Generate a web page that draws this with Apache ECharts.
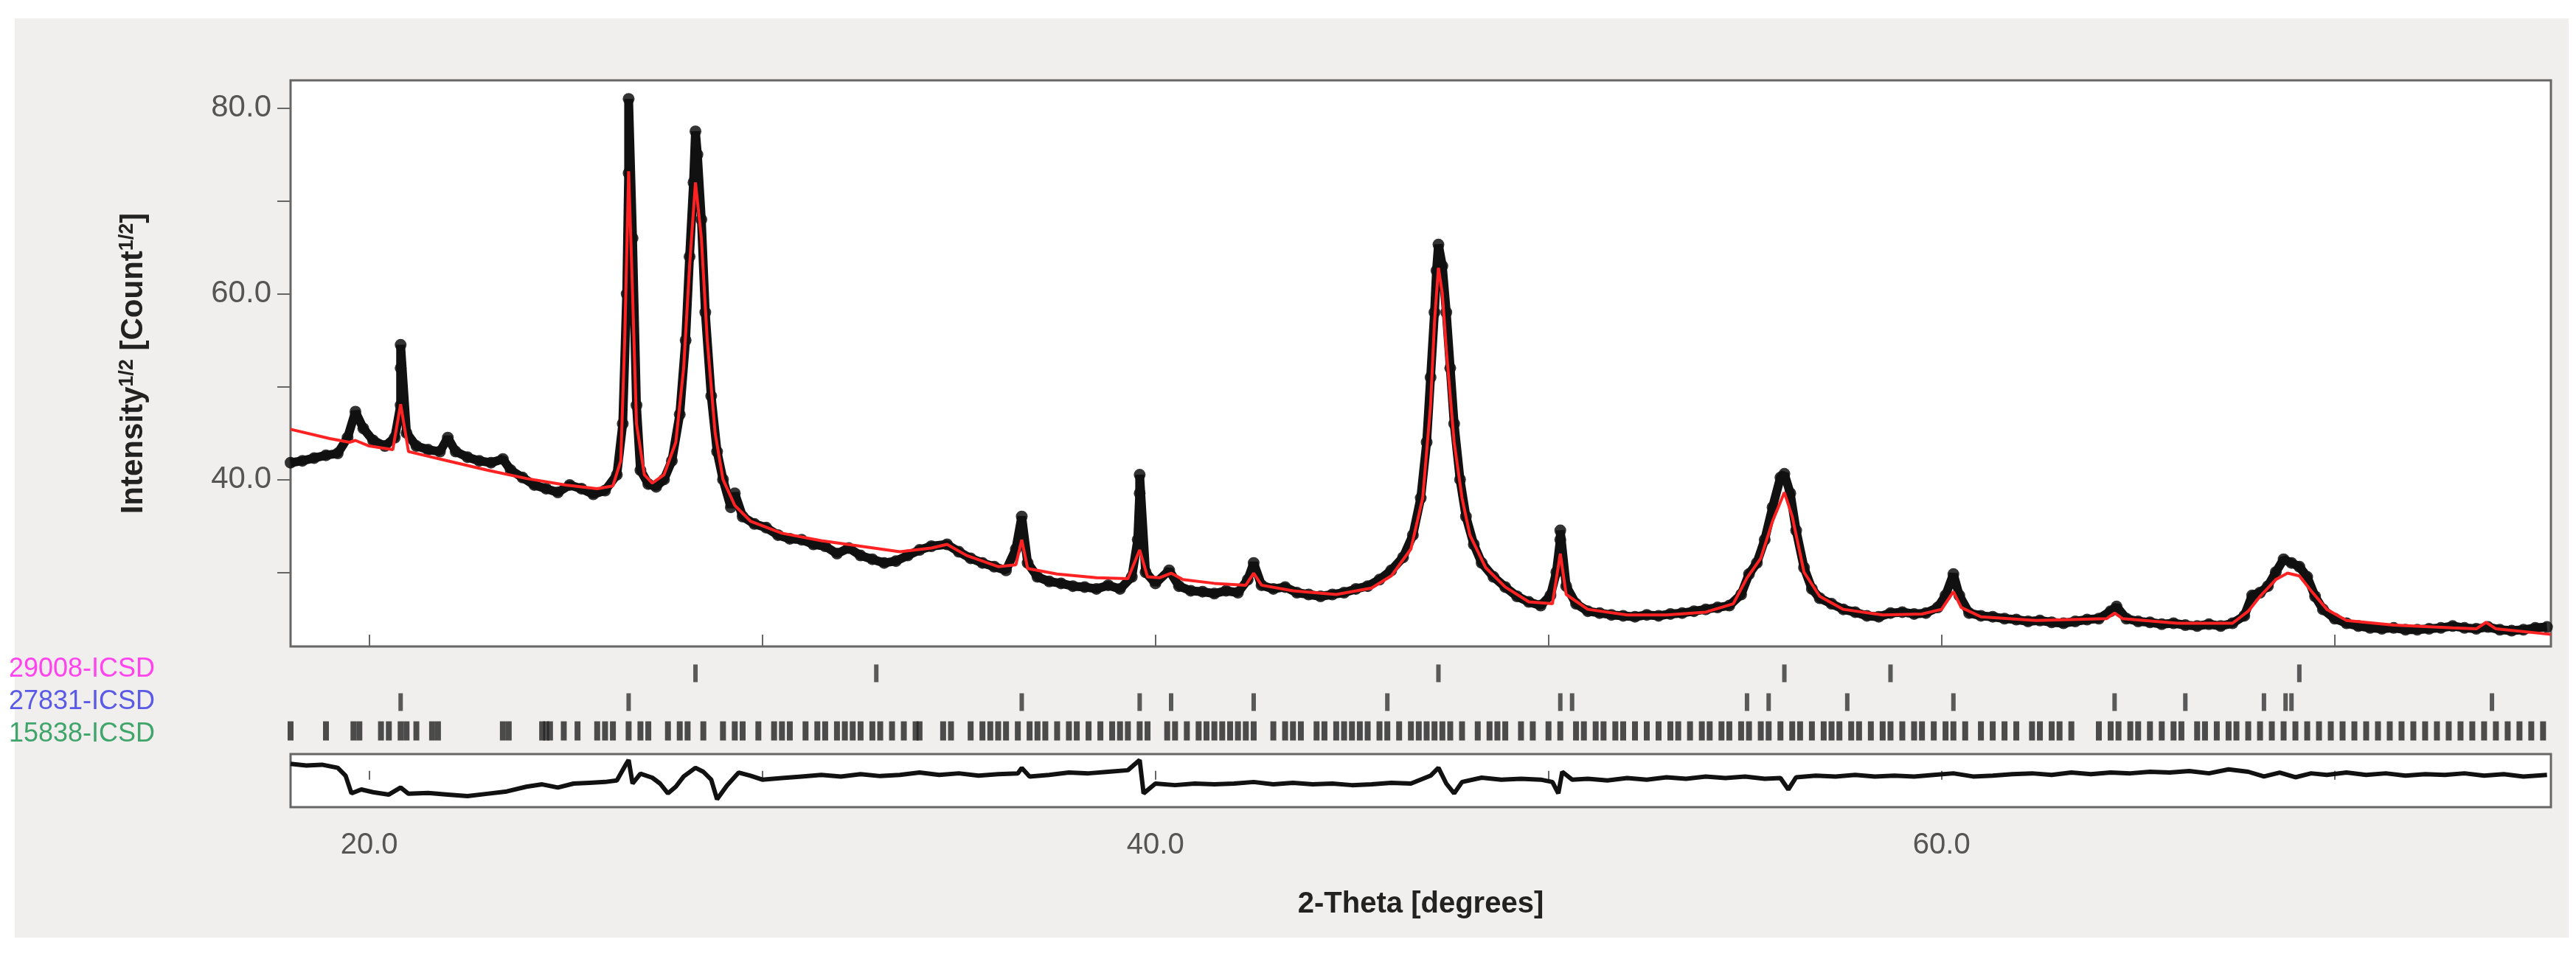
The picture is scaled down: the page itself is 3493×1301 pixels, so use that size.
<!DOCTYPE html>
<html>
<head>
<meta charset="utf-8">
<script src="https://cdn.jsdelivr.net/npm/echarts@6/dist/echarts.min.js"></script>
<style>
  html, body { margin: 0; padding: 0; background: #ffffff; }
  #chart { width: 3493px; height: 1301px; }
</style>
</head>
<body>
<div id="chart"></div>
<script>
// observed points [2theta, sqrt(I)]
const observed = [
  [18.0,41.8],[18.3,42.0],[18.6,42.3],[18.9,42.6],[19.2,42.8],[19.45,44.5],[19.65,47.3],[19.85,45.5],[20.1,44.2],[20.4,43.6],
  [20.65,44.5],[20.8,48],[20.8,52],[20.8,54.5],[20.95,45],[21.2,43.6],[21.5,43.2],[21.8,43.0],[22.0,44.5],[22.2,43.0],
  [22.5,42.4],[22.8,42.0],[23.1,41.8],[23.4,42.2],[23.6,41.0],[23.9,40.2],[24.2,39.4],[24.5,39.0],[24.8,38.6],[25.1,39.4],
  [25.4,39.0],[25.7,38.4],[26.0,38.8],[26.3,40.5],[26.45,46],[26.55,60],[26.6,73],[26.6,81],[26.7,66],[26.8,48],
  [26.9,41],[27.1,39.5],[27.3,39.2],[27.5,40],[27.7,42],[27.9,47],[28.05,55],[28.15,64],[28.25,72],[28.3,77.5],
  [28.35,75],[28.45,68],[28.55,58],[28.7,49],[28.85,43],[29.0,40],[29.2,37],[29.3,38.5],[29.5,36],[29.8,35.2],
  [30.1,34.8],[30.4,34.0],[30.7,33.6],[31.0,33.5],[31.3,33.0],[31.6,32.8],[31.9,32.0],[32.2,32.6],[32.5,31.8],[32.8,31.4],
  [33.1,31.0],[33.4,31.2],[33.7,31.8],[34.0,32.4],[34.3,32.8],[34.7,33.0],[35.0,32.2],[35.3,31.5],[35.6,31.0],[35.9,30.6],
  [36.2,30.2],[36.45,32.5],[36.6,36.0],[36.75,31.0],[37.0,29.5],[37.3,29.0],[37.6,28.8],[37.9,28.5],[38.2,28.4],[38.5,28.2],
  [38.8,28.6],[39.1,28.2],[39.4,29.5],[39.55,33.5],[39.6,38.5],[39.6,40.5],[39.75,30],[40.0,28.8],[40.35,30.2],[40.6,28.5],
  [40.9,28.0],[41.2,27.9],[41.5,27.7],[41.8,28.0],[42.1,27.8],[42.35,29.2],[42.5,31.0],[42.7,28.6],[43.0,28.2],[43.3,28.4],
  [43.6,27.8],[43.9,27.6],[44.2,27.4],[44.5,27.6],[44.8,27.8],[45.1,28.2],[45.4,28.5],[45.7,29.2],[46.0,30.2],[46.3,31.6],
  [46.55,34],[46.75,38],[46.9,44],[47.0,51],[47.1,58],[47.15,62.5],[47.2,65.3],[47.3,63],[47.4,58],[47.5,52],
  [47.6,46],[47.75,40],[47.9,36],[48.1,33],[48.3,31],[48.6,29.5],[48.9,28.4],[49.2,27.4],[49.5,26.8],[49.8,26.4],
  [50.05,27.5],[50.2,30.0],[50.3,33.5],[50.3,34.5],[50.45,28.5],[50.7,26.6],[51.0,25.8],[51.3,25.6],[51.6,25.4],[51.9,25.3],
  [52.2,25.2],[52.5,25.4],[52.8,25.3],[53.1,25.5],[53.4,25.6],[53.7,25.8],[54.0,26.0],[54.3,26.2],[54.6,26.4],[54.9,27.6],
  [55.1,29.8],[55.3,31.0],[55.5,33.5],[55.7,37],[55.9,40.2],[56.0,40.6],[56.15,38.5],[56.3,34.5],[56.5,30.5],[56.7,28.2],
  [56.9,27.2],[57.2,26.6],[57.5,26.0],[57.8,25.7],[58.1,25.3],[58.4,25.2],[58.7,25.6],[59.0,25.7],[59.3,25.5],[59.6,25.6],
  [59.9,26.2],[60.1,27.5],[60.3,29.8],[60.45,27.5],[60.7,25.6],[61.0,25.3],[61.3,25.2],[61.6,25.0],[61.9,24.9],[62.2,24.7],
  [62.5,24.8],[62.8,24.6],[63.1,24.5],[63.4,24.7],[63.7,24.9],[64.0,25.0],[64.3,25.8],[64.45,26.3],[64.7,25.0],[65.0,24.7],
  [65.3,24.6],[65.6,24.4],[65.9,24.5],[66.2,24.3],[66.5,24.2],[66.8,24.4],[67.1,24.2],[67.4,24.5],[67.7,25.3],[67.9,27.5],
  [68.1,27.8],[68.3,28.5],[68.5,30.0],[68.7,31.4],[68.9,31.0],[69.1,30.6],[69.3,29.5],[69.5,27.4],[69.7,26.0],[70.0,25.0],
  [70.3,24.5],[70.6,24.2],[70.9,24.0],[71.2,23.9],[71.5,24.0],[71.8,23.8],[72.1,23.8],[72.4,23.9],[72.7,24.0],[73.0,24.2],
  [73.3,24.0],[73.6,23.9],[73.9,24.1],[74.2,23.8],[74.5,23.7],[74.8,23.8],[75.1,24.0],[75.4,24.1]
];

// calculated profile (red)
const calculated = [
  [18,45.4],[19,44.4],[19.5,44.0],[19.65,44.2],[20,43.6],[20.6,43.2],[20.8,48.1],[21.0,43.0],[22,42.0],[23,41.0],
  [24,40.1],[25,39.4],[25.8,39.0],[26.2,39.3],[26.4,42],[26.5,55],[26.6,73.2],[26.7,60],[26.8,46],[27.0,40.5],
  [27.2,39.6],[27.5,40.5],[27.8,44],[28.0,52],[28.15,63],[28.3,72],[28.45,66],[28.6,55],[28.8,45],[29.0,40],
  [29.3,37.2],[29.7,35.5],[30.5,34.2],[31.5,33.4],[32.5,32.8],[33.5,32.2],[34.3,32.6],[34.7,33.0],[35.2,31.8],[36.0,30.6],
  [36.45,30.8],[36.6,33.5],[36.75,30.4],[37.5,29.8],[38.5,29.4],[39.3,29.3],[39.6,32.4],[39.8,29.5],[40.1,29.4],[40.4,29.9],
  [40.7,29.2],[41.5,28.8],[42.3,28.6],[42.5,29.9],[42.7,28.6],[43.5,28.0],[44.6,27.6],[45.5,28.3],[46.0,29.6],[46.5,32.5],
  [46.8,38],[47.0,48],[47.1,57],[47.2,62.8],[47.3,60],[47.4,54],[47.6,44],[47.8,38],[48.0,34],[48.4,30.5],
  [48.9,28.4],[49.5,26.8],[50.1,26.6],[50.3,32],[50.45,27.6],[51,26.0],[52,25.4],[53,25.4],[54,25.7],[54.7,26.6],
  [55.05,29.4],[55.4,31.5],[55.7,35.5],[56.0,38.6],[56.2,36],[56.5,30],[56.9,27.4],[57.5,26.0],[58.5,25.4],[59.5,25.5],
  [60.0,26.0],[60.3,27.9],[60.5,26.2],[61,25.2],[62.4,24.8],[64.2,25.0],[64.4,25.6],[64.6,25.0],[66,24.5],[67.4,24.5],
  [67.8,25.8],[68.1,27.4],[68.5,29.2],[68.8,29.9],[69.1,29.6],[69.4,28.0],[69.8,26.0],[70.3,24.8],[71.5,24.3],[73,24.0],
  [73.6,23.9],[73.85,24.6],[74.1,23.9],[75.5,23.3]
];

// reflection positions per phase
const phaseNames = ['29008-ICSD', '27831-ICSD', '15838-ICSD'];
const phaseColors = ['#ff44ee', '#5a5ae6', '#3fa56a'];
const ticks29008 = [28.3, 32.9, 47.2, 56.0, 58.7, 69.1];
const ticks27831 = [20.8, 26.6, 36.6, 39.6, 40.4, 42.5, 45.9, 50.3, 50.6, 55.05, 55.6, 57.6, 60.3, 64.4, 66.2, 68.2, 68.75, 68.9, 74.0];
const ticks15838 = [
  18.0, 18.9, 19.6, 19.75, 20.3, 20.5, 20.8, 20.95, 21.2, 21.6, 21.75,
  23.4, 23.55, 24.4, 24.5, 24.6, 24.95, 25.3, 25.8, 26.0, 26.2, 26.6, 26.9, 27.1, 27.6, 27.9, 28.1, 28.5,
  29.0, 29.3, 29.5, 29.9, 30.3, 30.5, 30.7, 31.1, 31.4, 31.6, 31.9, 32.1, 32.3, 32.5, 32.8, 33.0, 33.3,
  33.6, 33.9, 34.0, 34.6, 34.8, 35.3, 35.6, 35.8, 36.0, 36.2, 36.5, 36.8, 37.0, 37.2, 37.5, 37.8, 38.0, 38.3,
  38.6, 38.9, 39.1, 39.3, 39.6, 39.8, 40.3, 40.5, 40.8, 41.1, 41.3, 41.5, 41.7, 41.9, 42.1, 42.3, 42.5,
  43.0, 43.3, 43.5, 43.7, 44.1, 44.3, 44.6, 44.8, 45.0, 45.2, 45.4, 45.7, 45.9, 46.2, 46.5, 46.7, 46.9,
  47.1, 47.3, 47.5, 47.8, 48.2, 48.5, 48.7, 48.9, 49.3, 49.6, 50.0, 50.3, 50.7, 50.9, 51.2, 51.4, 51.7, 51.9,
  52.2, 52.5, 52.8, 53.1, 53.3, 53.6, 53.9, 54.1, 54.4, 54.6, 54.9, 55.1, 55.4, 55.6, 55.9, 56.2, 56.4,
  56.7, 57.0, 57.2, 57.4, 57.7, 57.9, 58.2, 58.5, 58.7, 59.0, 59.3, 59.5, 59.8, 60.1, 60.3, 60.6, 61.0,
  61.3, 61.6, 61.9, 62.3, 62.5, 62.8, 63.0, 63.3, 64.0, 64.3, 64.5, 64.8, 65.0, 65.3, 65.6, 65.9, 66.1,
  66.5, 66.7, 67.0, 67.3, 67.5, 67.8, 68.1, 68.4, 68.7, 69.0, 69.3, 69.6, 69.9, 70.2, 70.5, 70.8, 71.1,
  71.4, 71.7, 72.0, 72.3, 72.6, 72.9, 73.2, 73.5, 73.8, 74.1, 74.4, 74.7, 75.0, 75.3
];

// difference curve (obs - calc, arbitrary units)
const difference = [
  [18.0,4.0],[18.4,3.6],[18.8,3.8],[19.2,3.0],[19.4,1.0],[19.55,-3.5],[19.8,-2.5],[20.1,-3.2],[20.5,-3.8],[20.8,-2.0],
  [21.0,-3.6],[21.5,-3.4],[22.0,-3.8],[22.5,-4.2],[23.0,-3.6],[23.5,-3.0],[24.0,-1.8],[24.4,-1.2],[24.8,-2.0],[25.2,-1.0],
  [25.6,-0.8],[26.0,-0.6],[26.3,-0.2],[26.55,4.2],[26.6,5.0],[26.7,-1.0],[26.9,1.5],[27.2,0.5],[27.4,-1.0],[27.6,-3.5],
  [27.8,-1.8],[28.0,0.8],[28.3,3.0],[28.5,2.0],[28.7,0.0],[28.85,-5.0],[29.1,-1.5],[29.4,1.8],[29.7,1.0],[30.0,0.0],
  [30.5,0.4],[31.0,0.8],[31.5,1.2],[32.0,0.8],[32.5,1.4],[33.0,0.9],[33.5,1.2],[34.0,1.8],[34.5,1.2],[35.0,1.6],
  [35.5,1.0],[36.0,1.4],[36.5,1.6],[36.6,3.0],[36.8,0.8],[37.3,1.2],[37.8,1.8],[38.3,1.6],[38.8,2.0],[39.3,2.4],
  [39.6,5.0],[39.7,-3.5],[40.0,-1.0],[40.5,-1.4],[41.0,-1.0],[41.5,-1.2],[42.0,-1.0],[42.5,-0.6],[43.0,-1.2],[43.5,-0.8],
  [44.0,-1.2],[44.5,-1.0],[45.0,-1.4],[45.5,-1.2],[46.0,-0.8],[46.5,-1.0],[47.0,1.0],[47.2,3.0],[47.4,-1.0],[47.6,-3.5],
  [47.8,-0.6],[48.3,0.5],[48.8,0.0],[49.3,0.2],[49.8,0.0],[50.1,-0.6],[50.25,-3.5],[50.35,2.0],[50.6,0.0],[51.0,0.2],
  [51.5,-0.2],[52.0,0.4],[52.5,0.0],[53.0,0.6],[53.5,0.2],[54.0,0.8],[54.5,0.4],[55.0,0.8],[55.5,0.2],[55.9,0.4],
  [56.1,-2.5],[56.3,0.6],[56.8,1.0],[57.3,0.8],[57.8,1.2],[58.3,0.8],[58.8,1.0],[59.3,0.8],[59.8,1.2],[60.3,1.6],
  [60.8,0.8],[61.3,1.0],[61.8,1.4],[62.3,1.6],[62.8,1.2],[63.3,1.8],[63.8,1.4],[64.3,1.8],[64.8,1.6],[65.3,2.0],
  [65.8,1.8],[66.3,2.2],[66.8,1.6],[67.3,2.6],[67.8,2.0],[68.2,0.8],[68.6,1.8],[69.0,0.6],[69.4,1.6],[69.8,1.2],
  [70.3,1.8],[70.8,1.2],[71.3,1.6],[71.8,1.0],[72.3,1.4],[72.8,1.2],[73.3,1.6],[73.8,1.0],[74.3,1.4],[74.8,0.8],[75.4,1.2]
];

const xMin = 18, xMax = 75.5;

const chart = echarts.init(document.getElementById('chart'));

function tickSeries(values, row) {
  return values.map(v => [v, row]);
}

const fontFam = '"Liberation Sans", Arial, sans-serif';

const option = {
  backgroundColor: '#ffffff',
  animation: false,
  grid: [
    { left: 394, top: 109, width: 3065, height: 768, show: true, backgroundColor: '#fff', borderColor: '#666', borderWidth: 3 },
    { left: 394, top: 890, width: 3065, height: 125, show: false },
    { left: 394, top: 1023, width: 3065, height: 72, show: true, backgroundColor: '#fff', borderColor: '#666', borderWidth: 3 }
  ],
  xAxis: [
    {
      gridIndex: 0, type: 'value', min: xMin, max: xMax,
      axisLine: { show: false },
      axisTick: { show: true, inside: true, length: 16, customValues: [20, 30, 40, 50, 60, 70], lineStyle: { color: '#666', width: 2 } },
      axisLabel: { show: false },
      splitLine: { show: false }
    },
    { gridIndex: 1, type: 'value', min: xMin, max: xMax, show: false },
    {
      gridIndex: 2, type: 'value', min: xMin, max: xMax,
      axisLine: { show: false },
      axisTick: { show: true, inside: true, length: 12, customValues: [20, 30, 40, 50, 60, 70], lineStyle: { color: '#666', width: 2 } },
      axisLabel: {
        show: true, customValues: [20, 40, 60], margin: 32,
        formatter: v => v.toFixed(1), color: '#555', fontSize: 40, fontFamily: fontFam
      },
      splitLine: { show: false },
      name: '2-Theta [degrees]', nameLocation: 'middle', nameGap: 112,
      nameTextStyle: { fontSize: 40, fontWeight: 'bold', color: '#222', fontFamily: fontFam }
    }
  ],
  yAxis: [
    {
      gridIndex: 0, type: 'value', min: 22, max: 83,
      axisLine: { show: false },
      axisTick: { show: true, length: 18, customValues: [30, 40, 50, 60, 70, 80], lineStyle: { color: '#666', width: 2 } },
      axisLabel: {
        customValues: [40, 60, 80], formatter: v => v.toFixed(1), margin: 26,
        color: '#555', fontSize: 42, fontFamily: fontFam
      },
      splitLine: { show: false },
      name: 'Intensity{sup|1/2} [Count{sup|1/2}]', nameLocation: 'middle', nameGap: 190, nameRotate: 90,
      nameTextStyle: {
        fontSize: 42, fontWeight: 'bold', color: '#222', fontFamily: fontFam,
        rich: { sup: { fontSize: 27, fontWeight: 'bold', verticalAlign: 'top', padding: [0, 0, 18, 0], fontFamily: fontFam } }
      }
    },
    { gridIndex: 1, type: 'value', min: -0.6, max: 2.6, inverse: true, show: false },
    { gridIndex: 2, type: 'value', min: -7, max: 6.5, show: false }
  ],
  graphic: [
    {
      type: 'rect', z: -10, silent: true,
      shape: { x: 20, y: 25, width: 3463, height: 1247 },
      style: { fill: '#f1efed' }
    }
  ].concat(phaseNames.map((n, i) => ({
    type: 'text', left: 12, top: 890 + i * 44,
    style: { text: n, fill: phaseColors[i], fontSize: 36, fontFamily: fontFam }
  }))),
  series: [
    {
      name: 'obs-line', type: 'line', xAxisIndex: 0, yAxisIndex: 0, data: observed,
      showSymbol: false, lineStyle: { color: '#111', width: 12 }, z: 2, silent: true
    },
    {
      name: 'obs', type: 'scatter', xAxisIndex: 0, yAxisIndex: 0, data: observed,
      symbol: 'circle', symbolSize: 16, itemStyle: { color: '#111', opacity: 0.85 }, z: 3
    },
    {
      name: 'calc', type: 'line', xAxisIndex: 0, yAxisIndex: 0, data: calculated,
      showSymbol: false, lineStyle: { color: '#ff2222', width: 4 }, z: 5
    },
    {
      name: phaseNames[0], type: 'scatter', xAxisIndex: 1, yAxisIndex: 1, data: tickSeries(ticks29008, 0),
      symbol: 'rect', symbolSize: [6, 24], itemStyle: { color: '#333' }
    },
    {
      name: phaseNames[1], type: 'scatter', xAxisIndex: 1, yAxisIndex: 1, data: tickSeries(ticks27831, 1),
      symbol: 'rect', symbolSize: [6, 24], itemStyle: { color: '#333' }
    },
    {
      name: phaseNames[2], type: 'scatter', xAxisIndex: 1, yAxisIndex: 1, data: tickSeries(ticks15838, 2),
      symbol: 'rect', symbolSize: [8, 26], itemStyle: { color: '#222' }
    },
    {
      name: 'diff', type: 'line', xAxisIndex: 2, yAxisIndex: 2, data: difference,
      showSymbol: false, lineStyle: { color: '#111', width: 6 }
    }
  ]
};

chart.setOption(option);
window.addEventListener('resize', () => chart.resize());
</script>
</body>
</html>
